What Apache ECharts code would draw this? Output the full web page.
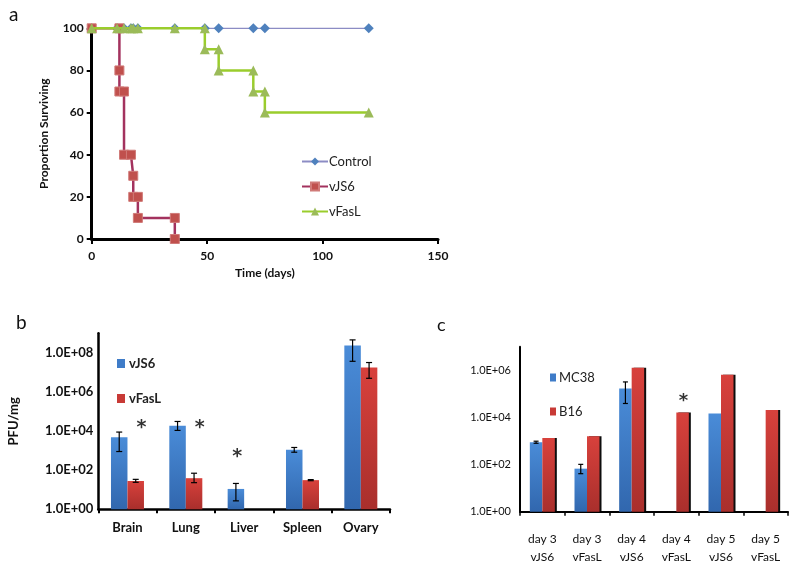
<!DOCTYPE html>
<html>
<head>
<meta charset="utf-8">
<script src="https://cdn.jsdelivr.net/npm/echarts@6/dist/echarts.min.js"></script>
<style>html,body{margin:0;padding:0;background:#fff}#main{width:795px;height:568px}</style>
</head>
<body>
<div id="main"></div>
<script>
// ---- Panel a: survival ----
const controlDays = [0, 11, 14, 17, 18, 20, 36, 49, 55, 70, 75, 120];
const controlSurv = [100, 100, 100, 100, 100, 100, 100, 100, 100, 100, 100, 100];
const vjs6Days = [0, 12, 12, 12, 14, 14, 17, 18, 18, 20, 20, 36, 36];
const vjs6Surv = [100, 100, 80, 70, 70, 40, 40, 30, 20, 20, 10, 10, 0];
const vfaslDays = [0, 11, 14, 17, 18, 20, 36, 49, 49, 55, 55, 70, 70, 75, 75, 120];
const vfaslSurv = [100, 100, 100, 100, 100, 100, 100, 100, 90, 90, 80, 80, 70, 70, 60, 60];

// ---- Panel b: organ titers ----
const organs = ['Brain', 'Lung', 'Liver', 'Spleen', 'Ovary'];
const bVJS6 = [4900, 19000, 11, 1100, 2.4e8];
const bVJS6Low = [900, 10800, 2.7, 830, 3.7e7];
const bVJS6High = [8900, 31000, 21, 1450, 4.6e8];
const bVFasL = [28, 39, null, 31, 1.8e7];
const bVFasLLow = [24, 23, null, 29, 5e6];
const bVFasLHigh = [34, 70, null, 33, 3.2e7];
const bStars = [[0, 23000], [1, 23000], [2, 770]];

// ---- Panel c: tumor titers ----
const groups = ['day 3\nvJS6', 'day 3\nvFasL', 'day 4\nvJS6', 'day 4\nvFasL', 'day 5\nvJS6', 'day 5\nvFasL'];
const cMC38 = [890, 67, 1.67e5, null, 1.48e4, null];
const cMC38Low = [800, 41, 3.9e4, null, null, null];
const cMC38High = [980, 102, 3.2e5, null, null, null];
const cB16 = [1350, 1600, 1.29e6, 1.63e4, 6.5e5, 2.05e4];
const cStars = [[3, 69000]];

const FONT = 'Lato, "Open Sans", sans-serif';
const zip = (a, b) => a.map((v, i) => [v, b[i]]);
const sciFmt = v => {
  const e = Math.round(Math.log10(v));
  if (e % 2 !== 0) return '';
  return '1.0E+' + (e < 10 ? '0' : '') + e;
};
const blueGrad = new echarts.graphic.LinearGradient(0, 0, 0, 1, [{offset: 0, color: '#4A8CD8'}, {offset: 1, color: '#3167AE'}]);
const redGrad = new echarts.graphic.LinearGradient(0, 0, 0, 1, [{offset: 0, color: '#D8413C'}, {offset: 1, color: '#A92F2C'}]);

function errRender(offset, capHalf) {
  return function (params, api) {
    const lo = api.value(1), hi = api.value(2);
    if (lo == null || hi == null || isNaN(lo) || isNaN(hi)) return null;
    const p1 = api.coord([api.value(0), lo]);
    const p2 = api.coord([api.value(0), hi]);
    const x = p1[0] + offset;
    const st = {stroke: '#000', lineWidth: 1.2};
    return {type: 'group', children: [
      {type: 'line', shape: {x1: x, y1: p1[1], x2: x, y2: p2[1]}, style: st},
      {type: 'line', shape: {x1: x - capHalf, y1: p1[1], x2: x + capHalf, y2: p1[1]}, style: st},
      {type: 'line', shape: {x1: x - capHalf, y1: p2[1], x2: x + capHalf, y2: p2[1]}, style: st}
    ]};
  };
}

const starLabel = {show: true, formatter: '*', position: 'inside', fontSize: 19, fontWeight: 'bold',
  color: '#000', textBorderWidth: 0, fontFamily: '"DejaVu Sans", sans-serif'};

const chart = echarts.init(document.getElementById('main'), null, {renderer: 'canvas'});
const option = {
  backgroundColor: '#fff',
  animation: false,
  textStyle: {fontFamily: FONT},
  title: [
    {text: 'a', left: 4, top: 0, textStyle: {fontFamily: FONT, fontSize: 19, fontWeight: 'normal', color: '#111'}},
    {text: 'b', left: 11, top: 308, textStyle: {fontFamily: FONT, fontSize: 19, fontWeight: 'normal', color: '#111'}},
    {text: 'c', left: 432, top: 311, textStyle: {fontFamily: FONT, fontSize: 18, fontWeight: 'normal', color: '#111'}}
  ],
  grid: [
    {left: 91.7, top: 28.3, width: 346.3, height: 210.7},
    {left: 98.3, top: 333.3, width: 291.7, height: 176},
    {left: 520, top: 346.7, width: 268, height: 165}
  ],
  legend: [
    {orient: 'vertical', left: 296, top: 150, itemWidth: 26, itemHeight: 10, itemGap: 12,
     data: ['Control', 'vJS6', 'vFasL'],
     textStyle: {fontFamily: FONT, fontSize: 13, color: '#222', padding: [0, 0, 0, -4]}},
    {orient: 'vertical', left: 112, top: 352, itemWidth: 8, itemHeight: 9, itemGap: 22, icon: 'rect',
     data: [{name: 'vJS6 ', itemStyle: {color: '#3F7CC8'}}, {name: 'vFasL ', itemStyle: {color: '#C83A36'}}],
     textStyle: {fontFamily: FONT, fontSize: 13, fontWeight: 'bold', color: '#222', padding: [0, 0, 0, -1]}},
    {orient: 'vertical', left: 545, top: 366, itemWidth: 6, itemHeight: 8, itemGap: 21, icon: 'rect',
     data: [{name: 'MC38', itemStyle: {color: '#3F7CC8'}}, {name: 'B16', itemStyle: {color: '#C83A36'}}],
     textStyle: {fontFamily: FONT, fontSize: 13, color: '#222', padding: [0, 0, 0, -2]}}
  ],
  xAxis: [
    {gridIndex: 0, type: 'value', min: 0, max: 150, interval: 50,
     name: 'Time (days)', nameLocation: 'middle', nameGap: 28,
     nameTextStyle: {fontFamily: FONT, fontSize: 12, fontWeight: 'bold', color: '#111'},
     axisLine: {lineStyle: {color: '#000', width: 3}},
     axisTick: {show: true, inside: false, length: 5, lineStyle: {color: '#000', width: 2}},
     axisLabel: {fontFamily: FONT, fontSize: 12, fontWeight: 'bold', color: '#111', margin: 11},
     splitLine: {show: false}},
    {gridIndex: 1, type: 'category', data: organs,
     axisLine: {lineStyle: {color: '#000', width: 2.5}},
     axisTick: {show: true, length: 4, lineStyle: {color: '#000', width: 2}},
     axisLabel: {fontFamily: FONT, fontSize: 13, fontWeight: 'bold', color: '#111', margin: 12}},
    {gridIndex: 2, type: 'category', data: groups,
     axisLine: {lineStyle: {color: '#000', width: 2}},
     axisTick: {show: true, length: 4, lineStyle: {color: '#000', width: 1.5}},
     axisLabel: {fontFamily: FONT, fontSize: 12, color: '#111', margin: 18, lineHeight: 18}}
  ],
  yAxis: [
    {gridIndex: 0, type: 'value', min: 0, max: 100, interval: 20,
     name: 'Proportion Surviving', nameLocation: 'middle', nameGap: 42,
     nameTextStyle: {fontFamily: FONT, fontSize: 12, fontWeight: 'bold', color: '#111'},
     axisLine: {show: true, lineStyle: {color: '#000', width: 3}},
     axisTick: {show: true, length: 5, lineStyle: {color: '#000', width: 2}},
     axisLabel: {fontFamily: FONT, fontSize: 12, fontWeight: 'bold', color: '#111', margin: 8},
     splitLine: {show: false}},
    {gridIndex: 1, type: 'log', logBase: 10, min: 1, max: 1e9, interval: 2,
     name: 'PFU/mg', nameLocation: 'middle', nameGap: 78,
     nameTextStyle: {fontFamily: FONT, fontSize: 13, fontWeight: 'bold', color: '#111'},
     axisLine: {show: true, lineStyle: {color: '#000', width: 2.5}},
     axisTick: {show: false},
     axisLabel: {fontFamily: FONT, fontSize: 13, fontWeight: 'bold', color: '#111', margin: 5, formatter: sciFmt},
     splitLine: {show: false}},
    {gridIndex: 2, type: 'log', logBase: 10, min: 1, max: 1e7, interval: 2,
     axisLine: {show: true, lineStyle: {color: '#000', width: 2}},
     axisTick: {show: false},
     axisLabel: {fontFamily: FONT, fontSize: 11, color: '#111', margin: 9, formatter: sciFmt},
     splitLine: {show: false}}
  ],
  series: [
    {name: 'Control', type: 'line', xAxisIndex: 0, yAxisIndex: 0, data: zip(controlDays, controlSurv),
     symbol: 'diamond', symbolSize: 10, itemStyle: {color: '#4F81BD'},
     lineStyle: {color: '#8C8CC4', width: 1.5}, z: 2},
    {name: 'vJS6', type: 'line', xAxisIndex: 0, yAxisIndex: 0, data: zip(vjs6Days, vjs6Surv),
     symbol: 'rect', symbolSize: 9, itemStyle: {color: '#C0504D', borderColor: '#D07A78', borderWidth: 1},
     lineStyle: {color: '#A3325E', width: 2.5}, z: 3},
    {name: 'vFasL', type: 'line', xAxisIndex: 0, yAxisIndex: 0, data: zip(vfaslDays, vfaslSurv),
     symbol: 'triangle', symbolSize: 10, itemStyle: {color: '#9BBB59'},
     lineStyle: {color: '#9ACD2C', width: 2.5}, z: 4},

    {name: 'vJS6 ', type: 'bar', xAxisIndex: 1, yAxisIndex: 1, data: bVJS6, barWidth: 16.5, barGap: '0%',
     itemStyle: {color: blueGrad}},
    {name: 'vFasL ', type: 'bar', xAxisIndex: 1, yAxisIndex: 1, data: bVFasL, barWidth: 16.5, barGap: '0%',
     itemStyle: {color: redGrad}},
    {type: 'custom', xAxisIndex: 1, yAxisIndex: 1, renderItem: errRender(-8.25, 3), z: 10,
     data: organs.map((c, i) => [i, bVJS6Low[i], bVJS6High[i]])},
    {type: 'custom', xAxisIndex: 1, yAxisIndex: 1, renderItem: errRender(8.25, 3), z: 10,
     data: organs.map((c, i) => [i, bVFasLLow[i], bVFasLHigh[i]])},
    {type: 'scatter', xAxisIndex: 1, yAxisIndex: 1, symbolSize: 0, z: 11,
     data: bStars.map((s, i) => ({value: s, label: {offset: i === 2 ? [-7, 4] : [14, 4]}})),
     label: starLabel},

    {name: 'MC38', type: 'bar', xAxisIndex: 2, yAxisIndex: 2, data: cMC38, barWidth: 12.5, barGap: '0%',
     itemStyle: {color: blueGrad}},
    {name: 'B16', type: 'bar', xAxisIndex: 2, yAxisIndex: 2, data: cB16, barWidth: 12.5, barGap: '0%',
     itemStyle: {color: redGrad, shadowColor: 'rgba(0,0,0,0.95)', shadowOffsetX: 2, shadowOffsetY: 0, shadowBlur: 0}},
    {type: 'custom', xAxisIndex: 2, yAxisIndex: 2, renderItem: errRender(-6.25, 2.5), z: 10,
     data: groups.map((c, i) => [i, cMC38Low[i], cMC38High[i]])},
    {type: 'scatter', xAxisIndex: 2, yAxisIndex: 2, symbolSize: 0, z: 11,
     data: cStars.map(s => ({value: s, label: {offset: [7, 4]}})),
     label: Object.assign({}, starLabel, {fontSize: 18})}
  ]
};
chart.setOption(option);
</script>
</body>
</html>
